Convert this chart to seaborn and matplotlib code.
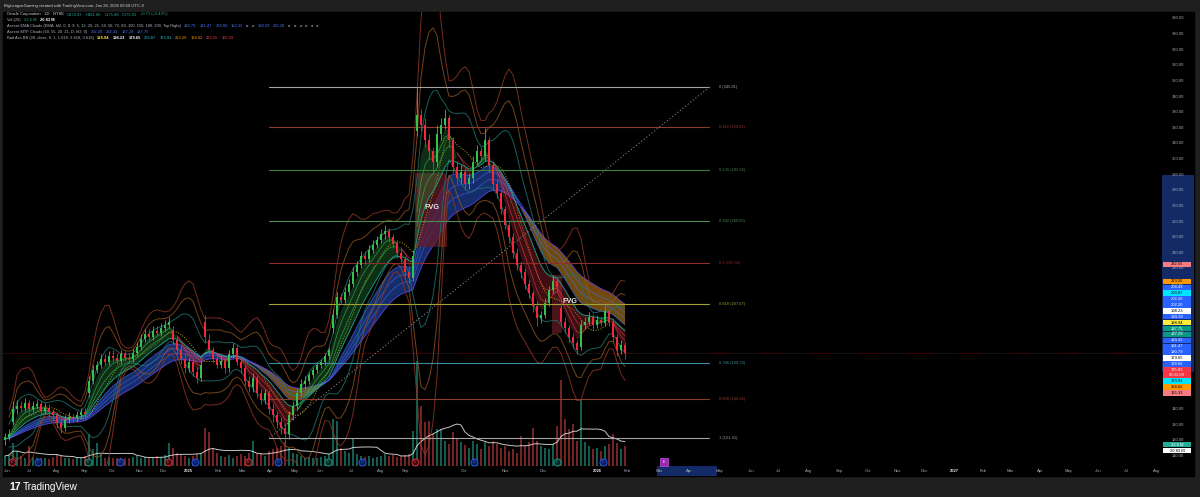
import numpy as np
import pandas as pd
import matplotlib
matplotlib.use("Agg")
import matplotlib.pyplot as plt
import matplotlib.transforms as mtrans
from matplotlib.patches import Rectangle
import seaborn as sns

# ------------------------------------------------------------------ data
# one candle per ~4 px slot of the reference chart (ORCL, Jun 2024 - Jan 2026)
opens = [120,122,132,140,142,141,144,140,142,143,
         139,141,138,136,131,128,133,135,134,136,
         138,150,158,165,168,172,170,174,173,171,
         175,173,172,176,180,185,188,186,190,189,
         192,194,190,184,178,172,166,170,164,160,
         196,184,178,172,168,171,166,175,179,170,
         166,158,154,160,150,146,150,140,136,132,
         128,124,136,142,150,156,158,162,165,168,
         170,174,192,200,212,210,215,220,228,232,
         238,236,242,245,248,252,254,250,246,240,
         236,228,224,318,328,322,312,305,298,316,
         322,326,312,295,288,292,284,288,298,305,
         302,312,296,284,278,268,258,250,240,232,
         228,220,214,206,198,200,208,216,222,205,
         196,192,186,182,180,194,196,199,194,197,
         195,203,196,186,178,181]
highs = [125,127,145,146,145,147,146,145,146,145,
         144,143,140,138,134,136,138,137,139,141,
         141,161,168,171,175,175,177,178,176,178,
         177,176,179,183,188,191,191,193,193,195,
         197,199,193,187,181,175,173,172,167,171,
         200,188,180,175,174,173,178,182,181,173,
         168,161,163,162,153,153,152,143,139,135,
         131,139,145,153,159,161,164,167,170,172,
         176,180,204,215,214,218,223,231,235,241,
         241,245,248,251,255,258,256,252,248,243,
         238,231,242,346,332,326,316,308,322,326,
         332,328,314,298,296,294,291,302,309,308,
         320,314,299,287,280,270,261,253,243,235,
         230,223,216,209,203,211,219,226,224,208,
         199,194,189,184,197,199,202,201,200,199,
         206,205,198,188,184,183]
lows = [117,120,130,137,138,139,137,138,140,136,
        137,135,133,128,125,126,131,132,132,134,
        135,148,156,163,166,168,168,170,169,169,
        171,170,170,174,178,183,184,184,187,187,
        190,192,181,175,169,163,164,161,157,158,
        182,175,170,166,166,163,164,173,168,163,
        155,151,151,147,143,143,137,132,128,124,
        118,121,133,140,148,153,156,160,163,166,
        168,172,189,198,207,208,213,218,225,230,
        233,234,240,243,246,249,247,243,237,233,
        225,221,222,315,318,308,300,292,295,312,
        319,308,291,284,285,280,281,285,296,299,
        299,292,280,275,265,255,246,237,229,224,
        217,211,202,193,195,198,206,214,215,193,
        189,183,179,175,178,191,194,191,192,193,
        193,193,183,174,175,172]
closes = [122,124,140,142,141,144,140,142,143,139,
          141,138,136,131,128,133,135,134,136,138,
          137,158,165,168,172,170,174,173,171,175,
          173,172,176,180,185,188,186,190,189,192,
          194,196,184,178,172,166,170,164,160,168,
          186,178,172,168,171,166,175,179,170,166,
          158,154,160,150,146,150,140,136,132,128,
          124,136,142,150,156,158,162,165,168,170,
          174,178,200,212,210,215,220,228,232,238,
          236,242,245,248,252,254,250,246,240,236,
          228,224,238,328,322,312,305,298,316,322,
          326,312,295,288,292,284,288,298,305,302,
          312,296,284,278,268,258,250,240,232,228,
          220,214,206,198,200,208,216,222,218,196,
          192,186,182,178,194,196,199,194,197,195,
          203,196,186,178,181,176]
volumes_m = [12,14,27,18,12,10,24,11,9,10,
             9,8,11,14,12,10,9,8,9,10,
             12,38,20,27,14,10,11,9,10,9,
             10,9,11,12,10,11,9,10,12,11,
             13,27,22,16,13,12,10,12,14,16,
             45,40,22,15,12,11,13,10,12,14,
             12,16,30,14,15,12,18,20,22,24,
             28,22,16,14,12,10,11,9,10,11,
             12,14,56,54,22,18,15,32,14,12,
             11,12,10,11,12,14,12,13,11,12,
             13,14,42,125,71,52,54,38,44,44,
             30,26,40,33,28,25,22,30,26,20,
             28,24,30,26,22,24,18,20,16,36,
             24,28,45,30,24,22,20,26,48,102,
             56,44,50,30,78,28,24,20,22,18,
             24,26,38,27,20,24]

month_labels = ["Jun","Jul","Aug","Sep","Oct","Nov","Dec","2025","Feb","Mar","Apr","May",
                "Jun","Jul","Aug","Sep","Oct","Nov","Dec","2026","Feb","Mar","Apr","May",
                "Jun","Jul","Aug","Sep","Oct","Nov","Dec","2027","Feb","Mar","Apr","May",
                "Jun","Jul","Aug"]
month_slots = [0.5,6.25,13,19.75,26.75,33.5,39.5,45.75,53.25,59.25,66.25,72.5,
               78.75,86.75,94,100,114.75,125,134.5,148,155.5,163.5,171,178.75,
               186.5,193.5,201,208.5,215.75,223,229.75,237.25,244.5,251.25,258.75,266,
               273.25,280.5,288]

fib_ratios = [0, 0.114, 0.236, 0.382, 0.5, 0.618, 0.786, 0.888, 1]
fib_prices = [345.81, 320.21, 292.82, 260.05, 233.56, 207.07, 169.33, 146.42, 121.31]
fib_colors = ["#a3a3a3", "#8e3b30", "#3f8040", "#4f8a52", "#8f2d2d", "#a4a236",
              "#3b8c9c", "#8e3b30", "#a3a3a3"]
fib_slot_start, fib_slot_end = 66, 176

price_ticks = list(range(110, 400, 10))
axis_values = [232.55, 213.26, 204.43, 203.87, 202.20, 202.20, 198.23, 194.19, 188.94,
               187.75, 187.29, 183.32, 181.47, 180.79, 179.65, 178.66, 175.83, 173.91,
               164.62, 155.33]
axis_bg = ["#f77c80", "#ff9800", "#2962ff", "#00e5ff", "#2962ff", "#2962ff", "#ffffff",
           "#2962ff", "#ffeb3b", "#089981", "#089981", "#2962ff", "#2962ff", "#2962ff",
           "#ffffff", "#2962ff", "#f23645", "#00e5ff", "#ff9800", "#f77c80"]
axis_fg = ["#000000", "#000000", "#ffffff", "#000000", "#ffffff", "#ffffff", "#000000",
           "#ffffff", "#000000", "#ffffff", "#ffffff", "#ffffff", "#ffffff", "#ffffff",
           "#000000", "#ffffff", "#ffffff", "#000000", "#000000", "#000000"]
last_price = 175.83
countdown = "03:01:09"
vol_label_values = [22.6, 20.83]
vol_label_text = ["22.6 M", "20.83 M"]
vol_label_bg = ["#22ab94", "#ffffff"]
vol_label_fg = ["#ffffff", "#000000"]

event_slots = [1.75, 8.25, 20.75, 28.75, 40.75, 47.5, 60.75, 68.25, 80.75, 89.25,
               102.5, 117.25, 138, 149.5]
event_kinds = ["E-", "D", "E+", "D", "E-", "D", "E-", "D", "E+", "D", "E-", "D", "E+", "D"]
future_event_slot = 164.75
highlight_slots = (163, 178)
highlight_prices = (164, 290)

fvg_boxes = [(102.5, 110.5, 244, 291), (136.75, 139.25, 189, 226)]
fvg_label_pos = [(106.75, 269), (141.25, 209)]

# ------------------------------------------------------------------ figure
W, H = 1200, 497
sns.set_theme(style="dark")
plt.rcParams["font.family"] = ["Liberation Sans", "DejaVu Sans"]
plt.rcParams["patch.force_edgecolor"] = False
fig = plt.figure(figsize=(12, 4.97), dpi=100, facecolor="#1f1f1f")


def px_rect(x0, y0, x1, y1):
    return [x0 / W, 1 - y1 / H, (x1 - x0) / W, (y1 - y0) / H]


fig.add_artist(Rectangle((3 / W, 1 - 476 / H), (1194 - 3) / W, (476 - 12) / H,
                         transform=fig.transFigure, color="black", zorder=0))

YMIN, YMAX = 103.6, 394.1
XMIN, XMAX = -0.5, 289.25
VMAX = 540

ax = fig.add_axes(px_rect(3, 12, 1162, 466))
axv = ax.twinx()
for a in (ax, axv):
    a.patch.set_visible(False)
    a.grid(False)
    for s in a.spines.values():
        s.set_visible(False)
    a.tick_params(left=False, right=False, bottom=False, labelleft=False,
                  labelright=False, labelbottom=False)
ax.set_zorder(3)
axv.set_zorder(2)
ax.set_xlim(XMIN, XMAX)
ax.set_ylim(YMIN, YMAX)
axv.set_ylim(0, VMAX)

df = pd.DataFrame(dict(x=np.arange(len(closes)), o=opens, h=highs, l=lows,
                       c=closes, v=volumes_m))
xs = df.x.values
up = df.c >= df.o

# volume
vcol = np.where(up, "#1f9a86", "#c23b3f")
axv.bar(xs, df.v, width=0.72, color=vcol, alpha=0.6, linewidth=0)
vma = df.v.rolling(12, min_periods=1).mean()
sns.lineplot(x=xs, y=vma, ax=axv, color="#e8e8e8", lw=0.7, alpha=0.85, legend=False)

# indicators
hl2 = (df.h + df.l) / 2


def ema(span):
    return hl2.ewm(span=span, adjust=False).mean()


e3, e5, e8 = ema(3), ema(5), ema(8)
e12, e16, e20, e24, e30 = ema(12), ema(16), ema(20), ema(24), ema(30)
bull = e3 >= e8
slow_bull = e16 >= e30


def sline(axis, ys, **kw):
    d = pd.DataFrame({"x": xs, "y": ys}).dropna()
    sns.lineplot(data=d, x="x", y="y", ax=axis, legend=False, **kw)


# Bollinger style bands (smoothed)
mid = df.c.rolling(8, min_periods=2).mean().rolling(2, min_periods=1).mean()
sd = df.c.rolling(8, min_periods=2).std(ddof=0).rolling(3, min_periods=1, center=True).mean()
bb_defs = [(3.618, "#8c3424", 0.85), (2.618, "#9a5a22", 0.75),
           (1.618, "#1f6f6a", 0.85)]
for k, colr, al in bb_defs:
    sline(ax, mid + k * sd, color=colr, lw=0.7, alpha=al, zorder=1.3)
    sline(ax, mid - k * sd, color=colr, lw=0.7, alpha=al, zorder=1.3)
sline(ax, mid, color="#c9b600", lw=0.7, ls=":", alpha=0.9, zorder=1.4)

# slow cloud (blue when rising, orange when falling)
ax.fill_between(xs, e16, e30, where=slow_bull, interpolate=True, color="#2a5bd7",
                alpha=0.5, lw=0, zorder=1.1)
ax.fill_between(xs, e16, e30, where=~slow_bull, interpolate=True, color="#c98a1c",
                alpha=0.55, lw=0, zorder=1.1)
for e, al in ((e16, 0.7), (e20, 0.6), (e24, 0.6), (e30, 0.9)):
    sline(ax, e, color="#4a6dff" if e is not e30 else "#6a4cff", lw=0.55, alpha=al,
          zorder=1.2)

# fast cloud (green / red)
ax.fill_between(xs, e3, e12, where=bull, interpolate=True, color="#2f9e46",
                alpha=0.3, lw=0, zorder=1.5)
ax.fill_between(xs, e3, e12, where=~bull, interpolate=True, color="#d3303c",
                alpha=0.3, lw=0, zorder=1.5)
for e in (e5, e8):
    ax.plot(xs, e.where(bull), color="#3cc45a", lw=0.5, alpha=0.7, zorder=1.6)
    ax.plot(xs, e.where(~bull), color="#e8454f", lw=0.5, alpha=0.7, zorder=1.6)
sline(ax, e12, color="#1fa08c", lw=0.7, alpha=0.9, zorder=1.6)

# FVG boxes
for (x0, x1, p0, p1) in fvg_boxes:
    ax.add_patch(Rectangle((x0, p0), x1 - x0, p1 - p0, color="#6b1a25", alpha=0.7,
                           lw=0, zorder=1.25))
for (lx, lp) in fvg_label_pos:
    ax.text(lx, lp, "FVG", color="#e6e6e6", fontsize=5.2, fontweight="bold",
            ha="center", va="center", zorder=6)

# candles
ccol = np.where(up, "#35c14a", "#f02a3a")
ax.vlines(xs, df.l, df.h, colors=ccol, lw=0.6, zorder=4)
body = np.maximum((df.c - df.o).abs(), 0.6)
ax.bar(xs, body, bottom=np.minimum(df.o, df.c), width=0.62, color=ccol, lw=0,
       zorder=4.1)

# fibonacci retracement
for r, p, colr in zip(fib_ratios, fib_prices, fib_colors):
    ax.plot([fib_slot_start, fib_slot_end], [p, p], color=colr, lw=0.8, zorder=2.5)
    ax.text(fib_slot_end + 2.6, p, f"{r:g} ({p:.2f})", color=colr, fontsize=2.9,
            ha="left", va="center", zorder=6)
ax.plot([fib_slot_start, fib_slot_end], [fib_prices[-1], fib_prices[0]],
        color="#8a8a8a", lw=0.7, ls=(0, (1.2, 2.2)), zorder=2.5)

# last price line
ax.axhline(last_price, color="#f23645", lw=0.5, ls=(0, (1, 2)), alpha=0.7, zorder=2.4)

# events at bottom
bt = mtrans.blended_transform_factory(ax.transData, ax.transAxes)
ev_style = {"E-": ("#3b0b10", "#f23645", "E"), "E+": ("#06281f", "#22ab94", "E"),
            "D": ("#0b1d55", "#2962ff", "D")}
for s, k in zip(event_slots, event_kinds):
    fc, ec, letter = ev_style[k]
    ax.scatter([s], [0.0095], s=26, facecolor=fc, edgecolor=ec, linewidth=0.6,
               transform=bt, clip_on=False, zorder=7)
    ax.text(s, 0.0095, letter, color=ec, fontsize=2.4, ha="center", va="center",
            transform=bt, clip_on=False, zorder=8)
ax.scatter([future_event_slot], [0.0095], s=30, marker="s", facecolor="#9c27b0",
           edgecolor="#c050e0", linewidth=0.5, transform=bt, clip_on=False, zorder=7)
ax.text(future_event_slot, 0.0095, "E", color="white", fontsize=2.4, ha="center",
        va="center", transform=bt, clip_on=False, zorder=8)

ax.set_xlabel("")
ax.set_ylabel("")
axv.set_xlabel("")
axv.set_ylabel("")

# ------------------------------------------------------------------ x axis row
axx = fig.add_axes(px_rect(3, 466, 1162, 476))
axx.set_xlim(XMIN, XMAX)
axx.set_ylim(476, 466)
axx.axis("off")
axx.add_patch(Rectangle((highlight_slots[0], 466), highlight_slots[1] - highlight_slots[0],
                        10, color="#132a66", lw=0))
for lab, s in zip(month_labels, month_slots):
    is_year = lab.isdigit()
    axx.text(s, 471.2, lab, color="#e8e8e8" if is_year else "#a8abb4", fontsize=3.0,
             fontweight="bold" if is_year else "normal", ha="center", va="center",
             clip_on=False)

# ------------------------------------------------------------------ price column
axp = fig.add_axes(px_rect(1162, 12, 1194, 466))
axp.set_xlim(0, 1)
axp.set_ylim(466, 12)
axp.axis("off")


def p2px(p):
    return 12 + (YMAX - p) * 454 / (YMAX - YMIN)


def v2px(v):
    return 466 - v * 454 / VMAX


axp.add_patch(Rectangle((0, p2px(highlight_prices[1])), 1,
                        p2px(highlight_prices[0]) - p2px(highlight_prices[1]),
                        color="#132a66", lw=0, zorder=0))
for t in price_ticks:
    axp.text(0.5, p2px(t), f"{t:.2f}", color="#a8abb4", fontsize=3.0, ha="center",
             va="center", zorder=1)


def stack(targets, heights):
    order = list(np.argsort(targets))
    clusters = []

    def layout(cl):
        cum, offs = 0.0, []
        for i in cl:
            offs.append(cum + heights[i] / 2)
            cum += heights[i]
        top = np.mean([targets[i] - o for i, o in zip(cl, offs)])
        return top, cum, offs

    for i in order:
        clusters.append([i])
        while len(clusters) > 1:
            t1, h1, _ = layout(clusters[-2])
            t2, _, _ = layout(clusters[-1])
            if t1 + h1 > t2:
                last = clusters.pop()
                clusters[-1] = clusters[-1] + last
            else:
                break
    centers = [0.0] * len(targets)
    for cl in clusters:
        top, _, offs = layout(cl)
        for i, o in zip(cl, offs):
            centers[i] = top + o
    return centers


box_h = 5.9
tg = [p2px(v) for v in axis_values]
hh = [box_h * 1.9 if v == last_price else box_h for v in axis_values]
cs = stack(tg, hh)
for v, bgc, fgc, c, h in zip(axis_values, axis_bg, axis_fg, cs, hh):
    axp.add_patch(Rectangle((0.04, c - h / 2 + 0.25), 0.86, h - 0.5, color=bgc, lw=0,
                            zorder=3))
    if v == last_price:
        axp.text(0.47, c - h / 4, f"{v:.2f}", color=fgc, fontsize=3.0, ha="center",
                 va="center", zorder=4)
        axp.text(0.47, c + h / 4, countdown, color=fgc, fontsize=3.0, ha="center",
                 va="center", zorder=4)
    else:
        axp.text(0.47, c, f"{v:.2f}", color=fgc, fontsize=3.0, ha="center",
                 va="center", zorder=4)

vt = [v2px(v) for v in vol_label_values]
vc = stack(vt, [box_h, box_h])
for txt, bgc, fgc, c in zip(vol_label_text, vol_label_bg, vol_label_fg, vc):
    axp.add_patch(Rectangle((0.04, c - box_h / 2 + 0.25), 0.86, box_h - 0.5, color=bgc,
                            lw=0, zorder=3))
    axp.text(0.47, c, txt, color=fgc, fontsize=3.0, ha="center", va="center", zorder=4)

# ------------------------------------------------------------------ texts
fig.text(4 / W, 1 - 6 / H, "BigLeagueGaming created with TradingView.com, Jan 28, 2026 09:58 UTC-8",
         color="#d1d4dc", fontsize=3.0, ha="left", va="center")

renderer = fig.canvas.get_renderer()


def chain(x, y, segs, size=2.9, gap=3.2):
    for txt, colr, bold in segs:
        t = fig.text(x / W, 1 - y / H, txt, color=colr, fontsize=size,
                     fontweight="bold" if bold else "normal", ha="left", va="center",
                     zorder=10)
        x += t.get_window_extent(renderer).width + gap


G, TEAL, BLUE = "#b2b5be", "#22ab94", "#4a78ff"
chain(7, 14.5, [("Oracle Corporation · 1D · NYSE", "#d1d4dc", False),
                ("O174.93", TEAL, False), ("H181.88", TEAL, False), ("L171.88", TEAL, False),
                ("C175.83", TEAL, False), ("+0.73 (+0.42%)", TEAL, False)])
chain(7, 20.3, [("Vol (20)", G, False), ("22.6 M", TEAL, False),
                ("20.83 M", "#ffffff", True)])
chain(7, 26.1, [("Ascent EMA Clouds (EMA, hl2, 0, 8, 9, 5, 12, 20, 21, 34, 50, 72, 89, 100, 150, 180, 200, Top Right)", G, False),
                ("180.79", BLUE, False), ("181.47", BLUE, False), ("178.66", BLUE, False),
                ("183.32", BLUE, False), ("ø", G, False), ("ø", G, False),
                ("194.19", BLUE, False), ("202.20", BLUE, False), ("ø", G, False),
                ("ø", G, False), ("ø", G, False), ("ø", G, False), ("ø", G, False),
                ("ø", G, False)])
chain(7, 31.9, [("Ascent MTF Clouds (50, 55, 20, 21, D, hl2, 0)", G, False),
                ("202.20", BLUE, False), ("204.43", BLUE, False), ("187.29", BLUE, False),
                ("187.75", BLUE, False)])
chain(7, 37.7, [("Bad Ass BB (20, close, 0, 1, 1.618, 2.618, 3.618)", G, False),
                ("188.94", "#ffeb3b", True), ("198.23", "#ffffff", True),
                ("179.65", "#ffffff", True), ("203.87", "#26c6da", False),
                ("173.91", "#26c6da", False), ("213.26", "#ff9800", False),
                ("164.62", "#ff9800", False), ("232.55", "#f44336", False),
                ("155.33", "#f44336", False)])

# footer logo
fig.text(9 / W, 1 - 487 / H, "17", color="white", fontsize=7.5, fontweight="bold",
         ha="left", va="center")
fig.text(23 / W, 1 - 487 / H, "TradingView", color="white", fontsize=7.2,
         ha="left", va="center")

fig.savefig("out.png", dpi=100, facecolor=fig.get_facecolor())
